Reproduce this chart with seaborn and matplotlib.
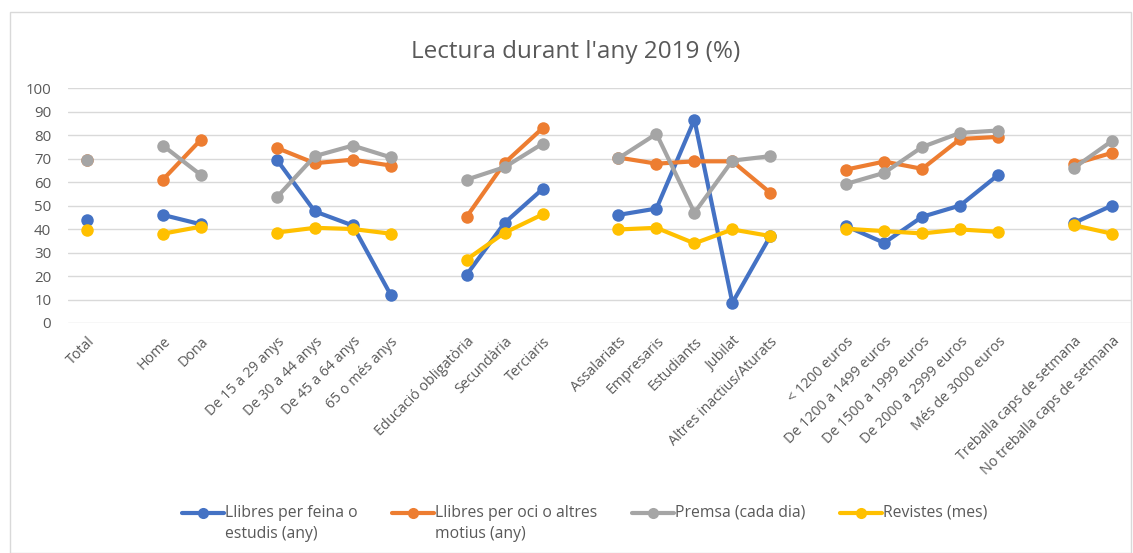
import numpy as np
import pandas as pd
import matplotlib
matplotlib.use("Agg")
import matplotlib.pyplot as plt
import seaborn as sns
from matplotlib.patches import Rectangle

categories = ["Total", "", "Home", "Dona", "",
              "De 15 a 29 anys", "De 30 a 44 anys", "De 45 a 64 anys", "65 o més anys", "",
              "Educació obligatòria", "Secundària", "Terciaris", "",
              "Assalariats", "Empresaris", "Estudiants", "Jubilat", "Altres inactius/Aturats", "",
              "< 1200 euros", "De 1200 a 1499 euros", "De 1500 a 1999 euros", "De 2000 a 2999 euros",
              "Més de 3000 euros", "",
              "Treballa caps de setmana", "No treballa caps de setmana"]

llibres_feina = [44, None, 46, 42, None,
                 69.5, 47.5, 41.5, 12, None,
                 20.5, 42.6, 57, None,
                 46, 48.7, 86.5, 8.6, 37, None,
                 41.2, 34.1, 45.2, 50, 63, None,
                 42.6, 50]
llibres_oci = [69.5, None, 61, 78, None,
               74.5, 68, 69.5, 67, None,
               45.2, 68.1, 82.9, None,
               70.4, 67.8, 68.8, 68.8, 55.4, None,
               65.3, 68.7, 65.6, 78.3, 79.2, None,
               67.7, 72.4]
premsa = [69.5, None, 75.5, 63, None,
          53.5, 71, 75.5, 70.5, None,
          61, 66.3, 76.3, None,
          70.1, 80.5, 46.9, 69.1, 71, None,
          59.2, 63.9, 74.9, 80.9, 81.9, None,
          66, 77.5]
revistes = [39.5, None, 38, 41, None,
            38.5, 40.5, 40, 38, None,
            27, 38.4, 46.2, None,
            39.8, 40.5, 33.9, 39.8, 37, None,
            40.1, 39.1, 38.1, 39.8, 38.8, None,
            41.6, 38]

series_names = ["Llibres per feina o\nestudis (any)", "Llibres per oci o altres\nmotius (any)",
                "Premsa (cada dia)", "Revistes (mes)"]
series_values = [llibres_feina, llibres_oci, premsa, revistes]
colors = ["#4472C4", "#ED7D31", "#A5A5A5", "#FFC000"]

# build long table with segment ids (gap categories break the lines)
group_ids = []
g = 0
for c in categories:
    if c == "":
        g += 1
    group_ids.append(g)

rows = []
for name, vals in zip(series_names, series_values):
    for i, v in enumerate(vals):
        if v is not None:
            rows.append({"pos": i, "value": v, "series": name, "group": group_ids[i]})
df = pd.DataFrame(rows)

sns.set_theme(style="white")
plt.rcParams["font.family"] = ["Open Sans", "DejaVu Sans"]

fig = plt.figure(figsize=(11.33, 5.53), dpi=100)
ax = fig.add_axes([68 / 1133, 1 - 323 / 553, (1131 - 68) / 1133, (323 - 88) / 553])

sns.lineplot(data=df, x="pos", y="value", hue="series", units="group", estimator=None,
             palette=colors, hue_order=series_names, marker="o", markersize=9,
             markeredgewidth=0, linewidth=3, sort=False, ax=ax, legend=True)

ax.set_xlim(-0.5, len(categories) - 0.5)
ax.set_ylim(0, 100)
ax.set_yticks(np.arange(0, 101, 10))
ax.set_xticks(range(len(categories)))
ax.set_xticklabels(categories, rotation=45, ha="right", rotation_mode="anchor",
                   fontsize=10.3, color="#595959")
ax.tick_params(axis="y", labelsize=10.8, labelcolor="#595959", length=0, pad=12)
ax.tick_params(axis="x", length=0, pad=8)
ax.yaxis.grid(True, color="#d9d9d9", linewidth=1)
ax.xaxis.grid(False)
ax.set_axisbelow(True)
for s in ax.spines.values():
    s.set_visible(False)
ax.set_xlabel("")
ax.set_ylabel("")

handles, labels = ax.get_legend_handles_labels()
for h in handles:
    h.set_markersize(8)
ax.get_legend().remove()
# make every label two lines so the rows align at the top line
labels = [l if "\n" in l else l + "\n " for l in labels]
leg = fig.legend(handles, labels, loc="center", bbox_to_anchor=(0.516, 0.053), ncol=4,
                 frameon=False, fontsize=11.3, handlelength=2.7, columnspacing=2.2,
                 handletextpad=0.05, labelcolor="#595959")
for t in leg.get_texts():
    t.set_linespacing(1.45)
# raise legend handles to the first text line
for h in leg.legend_handles:
    h.set_ydata(np.asarray(h.get_ydata(), dtype=float) + 8.2)

fig.text(0.508, 1 - 52 / 553, "Lectura durant l'any 2019 (%)", ha="center", va="center",
         fontsize=17.5, color="#595959")

fig.patches.append(Rectangle((10 / 1133, 0), 1 - 12 / 1133, 1 - 12 / 553,
                             transform=fig.transFigure, fill=False,
                             edgecolor="#d9d9d9", linewidth=1))

fig.savefig("out.png", dpi=100)
